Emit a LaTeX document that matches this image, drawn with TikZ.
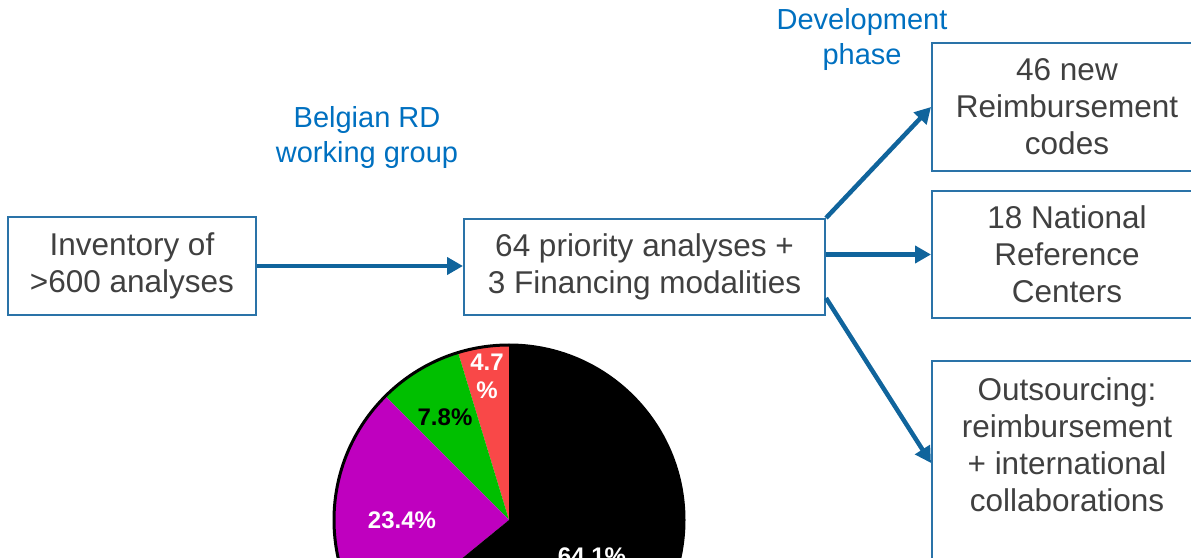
\documentclass[tikz,border=0pt]{standalone}
\usepackage{fontspec}
\setmainfont{Liberation Sans}
\usetikzlibrary{arrows.meta}
\definecolor{boxblue}{HTML}{2A73A8}
\definecolor{arrowblue}{HTML}{10649C}
\definecolor{labelblue}{HTML}{0070C0}
\definecolor{txtgrey}{HTML}{404040}
\definecolor{piered}{HTML}{F94848}
\definecolor{piegreen}{HTML}{00BF00}
\definecolor{piepurple}{HTML}{BF00BF}
\tikzset{
  box/.style={draw=boxblue, line width=2, fill=white, text=txtgrey, align=center,
    font=\fontsize{31.5}{37}\selectfont},
  flow/.style={draw=arrowblue, line width=4.5, -{Triangle[length=16,width=17]}},
  note/.style={text=labelblue, align=center, font=\fontsize{29}{35}\selectfont},
  pct/.style={align=center, font=\fontsize{24}{28}\selectfont\bfseries}
}

\begin{document}
\begin{tikzpicture}[x=1pt,y=1pt]
\path[use as bounding box, clip] (0,0) rectangle (1191,557);

% boxes
\node[box, minimum width=248, minimum height=98] (inv) at (132,291) {Inventory of\\>600 analyses};
\node[box, minimum width=361, minimum height=96] (prio) at (644.5,290) {64 priority analyses +\\3 Financing modalities};
\node[box, minimum width=270, minimum height=128] (codes) at (1067,450) {46 new\\Reimbursement\\codes};
\node[box, minimum width=270, minimum height=127] (nrc) at (1067,302.5) {18 National\\Reference\\Centers};
\node[box, minimum width=270, minimum height=240, anchor=north] (outs) at (1067,197) {};
\node[text=txtgrey, align=center, font=\fontsize{31.5}{37}\selectfont] (outstxt) at (1067,112)
  {Outsourcing:\\reimbursement\\+ international\\collaborations};

% blue labels
\node[note] (rd) at (367,419) {Belgian RD\\working group};
\node[note] (dev) at (862,517) {Development\\phase};

% arrows
\draw[flow] (inv.east) -- (inv.east -| prio.west);
\draw[flow] (prio.north east) -- (codes.west);
\draw[flow] (prio.east |- nrc.west) -- (nrc.west);
\draw[flow] ([yshift=18]prio.south east) -- (outs.west |- {(0,94)});

% pie
\begin{scope}[shift={(509,37)}]
\foreach \s/\e/\c in {90/106.92/piered, 106.92/135/piegreen, 135/219.24/piepurple, 219.24/450/black}{
  \fill[\c] (0,0) -- (\s:175) arc (\s:\e:175) -- cycle;
}
\draw[line width=3] (0,0) circle (175);
\end{scope}
\node[pct, text=white] (p47) at (487,181) {4.7\\\%};
\node[pct, text=black] (p78) at (445,140) {7.8\%};
\node[pct, text=white] (p234) at (402,37) {23.4\%};
\node[pct, text=white] (p641) at (592,1) {64.1\%};
\end{tikzpicture}
\end{document}
